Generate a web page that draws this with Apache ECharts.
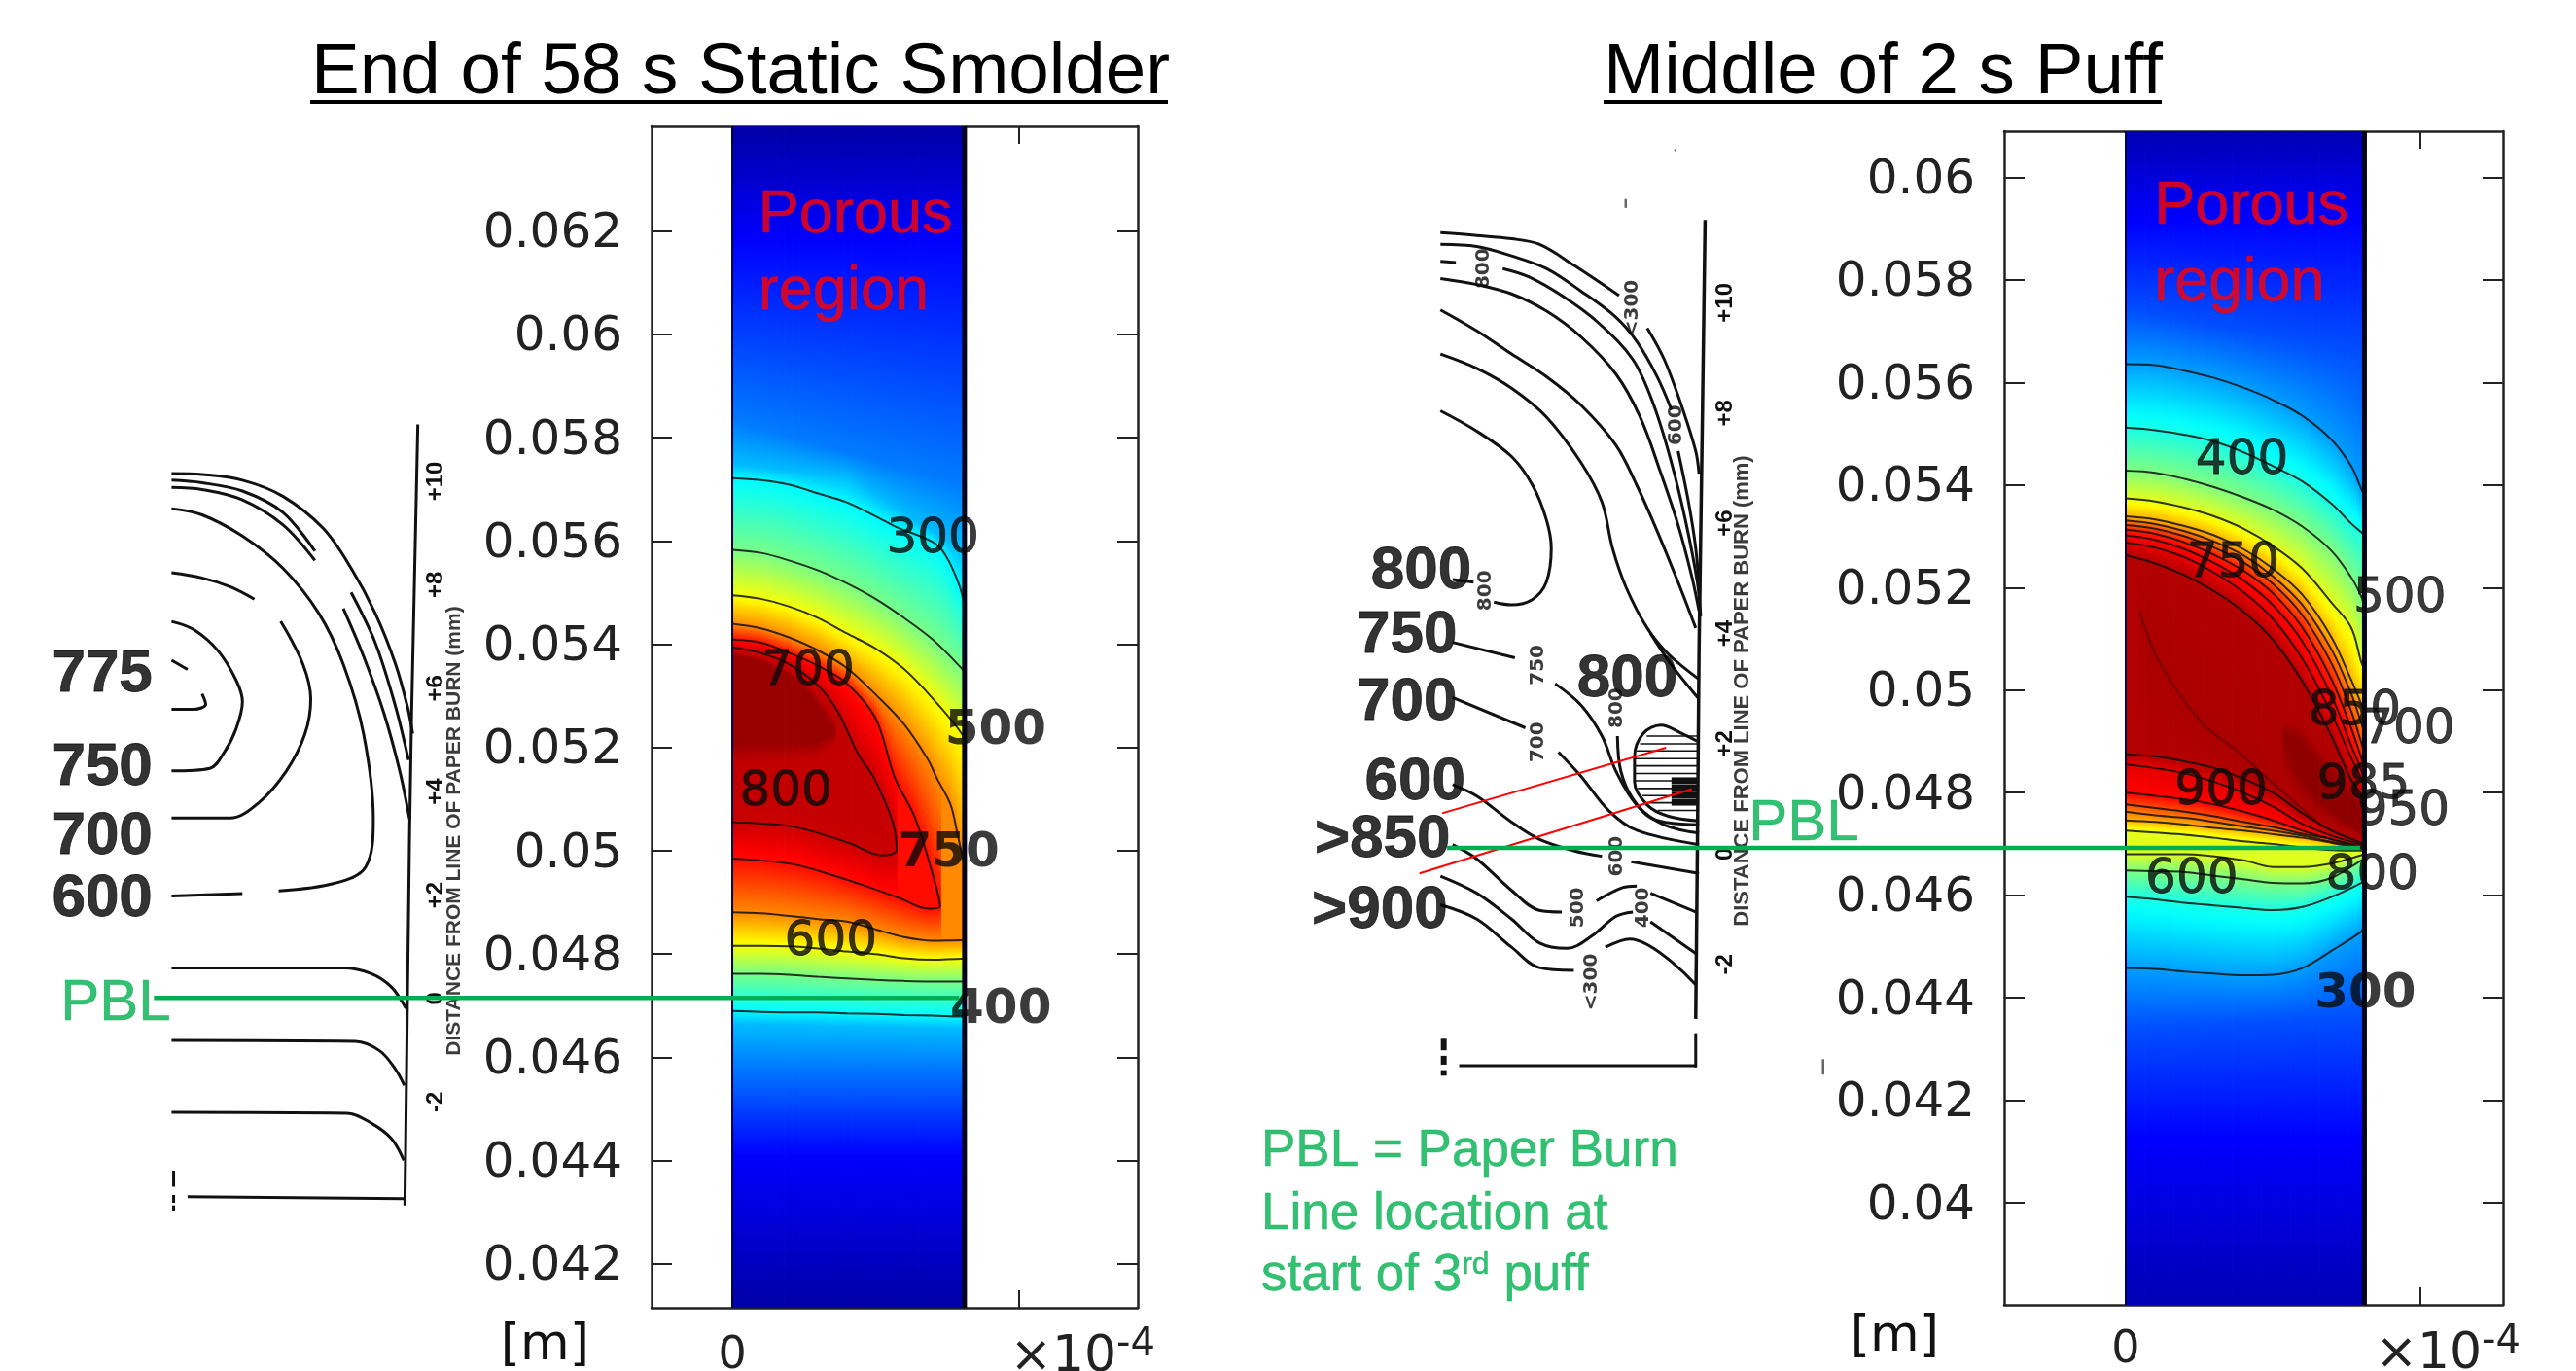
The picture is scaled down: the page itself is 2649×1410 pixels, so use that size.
<!DOCTYPE html>
<html><head><meta charset="utf-8">
<script src="https://cdn.jsdelivr.net/npm/echarts@6/dist/echarts.min.js"></script>
<style>html,body{margin:0;background:#fff}#c{width:2649px;height:1410px}</style></head>
<body><div id="c"></div>
<script>
// ---------- axis ticks ----------
const yTicks1=[0.042,0.044,0.046,0.048,0.05,0.052,0.054,0.056,0.058,0.06,0.062];
const yTicks2=[0.04,0.042,0.044,0.046,0.048,0.05,0.052,0.054,0.056,0.058,0.06];
const xTicks=[0,1], xLabels=[0];
const sketchTicks=[-2,0,2,4,6,8,10];
// ---------- model 1 isotherms: x (x10^-4 m), y (mm) ----------
const S1=[0,.1,.2,.3,.4,.5,.6,.7,.8,.811];
const m1_300u=[[0,57.22],[.1,57.18],[.2,57.09],[.3,56.92],[.4,56.75],[.5,56.48],[.574,56.27],[.7,55.98],[.744,55.73],[.793,55.14],[.811,54.72]];
const m1_400u=[55.83,55.77,55.62,55.43,55.18,54.88,54.51,54.09,53.54,53.45];
const m1_500u=[54.95,54.88,54.73,54.51,54.21,53.92,53.52,52.95,52.28,52.05];
const m1_600u=[[0,54.40],[.1,54.31],[.2,54.13],[.3,53.88],[.4,53.54],[.5,53.03],[.6,52.45],[.683,51.77],[.714,51.41],[.762,50.90],[.787,50.31],[.811,49.7]];
const m1_600l=[48.81,48.79,48.74,48.68,48.63,48.48,48.33,48.26,48.27,48.27];
const m1_500l=[48.16,48.16,48.15,48.11,48.05,48.00,47.92,47.89,47.91,47.91];
const m1_400l=[47.62,47.62,47.60,47.56,47.53,47.50,47.48,47.47,47.47,47.47];
const m1_300l=[46.90,46.88,46.87,46.87,46.85,46.84,46.82,46.81,46.79,46.79];
const m1_700=[[0,54.09],[.1,54.03],[.2,53.83],[.3,53.58],[.4,53.24],[.5,52.57],[.568,51.41],[.635,50.68],[.683,49.87],[.726,48.92],[.683,48.88],[.586,49.08],[.465,49.32],[.344,49.54],[.222,49.73],[.101,49.81],[0,49.85]];
const m1_750=[[0,53.94],[.1,53.83],[.2,53.61],[.3,53.20],[.368,52.70],[.441,51.86],[.495,51.41],[.562,50.53],[.574,50.02],[.526,49.91],[.404,50.16],[.222,50.46],[.101,50.53],[0,50.55]];
const m1_core755=[[0,53.88],[.1,53.77],[.2,53.53],[.3,53.1],[.37,52.6],[.44,51.75],[.50,51.1],[.55,50.3],[.45,50.45],[.2,50.8],[0,50.9]];
const m1_core758=[[0,53.85],[.1,53.73],[.2,53.48],[.29,53.05],[.41,52.25],[.29,51.8],[.1,51.7],[0,51.7]];
const m1_core790=[[0,53.8],[.1,53.68],[.2,53.42],[.28,53.0],[.36,52.3],[.28,52.1],[.1,52.1],[0,52.1]];
const m1_blue=[[30,[[0,64.03],[.811,64.03]]],[100,[[0,61.87],[.811,61.87]]],[200,[[0,58.33],[.811,57.07]]],[250,[[0,57.49],[.4,57.24],[.811,55.81]]],[250,[[0,46.65],[.811,46.55]]],[200,[[0,45.84],[.811,45.84]]],[100,[[0,44.08],[.811,44.08]]],[30,[[0,41.15],[.811,41.15]]]];
const m1_labels=[[.70,56.10,'300'],[.265,53.54,'700'],[.187,51.21,'800'],[.344,48.30,'600']];
const m1_boldLabels=[[.92,52.40,'500'],[.756,50.02,'750'],[.938,46.98,'400']];
const porous1=[[.091,62.30,'Porous'],[.091,60.82,'region']];
// ---------- model 2 isotherms ----------
const S2u=[0,.1,.2,.3,.4,.5,.6,.7,.766,.8,.811];
const m2_300u=[56.36,56.34,56.23,56.09,55.90,55.66,55.35,54.88,54.37,53.93,53.80];
const m2_400u=[55.12,55.07,54.98,54.85,54.64,54.37,54.07,53.63,53.25,53.08,53.02];
const m2_500u=[54.28,54.24,54.12,53.96,53.76,53.52,53.19,52.71,52.20,51.83,51.63];
const m2_600u=[53.74,53.68,53.56,53.39,53.15,52.81,52.37,51.70,51.22,50.55,50.40];
const m2_700u=[53.39,53.33,53.20,53.02,52.75,52.37,51.86,51.02,50.20,49.73,49.55];
const m2_750u=[53.31,53.24,53.10,52.90,52.63,52.22,51.66,50.78,49.93,49.36,49.15];
const m2_800u=[53.22,53.15,53.00,52.78,52.49,52.07,51.46,50.51,49.59,48.98,48.75];
const m2_850u=[53.13,53.05,52.88,52.64,52.33,51.89,51.22,50.20,49.26,48.68,48.45];
const m2_875u=[53.02,52.93,52.75,52.48,52.14,51.66,50.95,49.88,48.92,48.44,48.20];
const m2_900u=[52.88,52.78,52.59,52.29,51.91,51.39,50.61,49.53,48.68,48.27,48.05];
const m2_950u=[52.63,52.47,52.24,51.93,51.53,50.98,50.17,49.09,48.25,47.97,47.85];
const S2l=[0,.1,.2,.3,.4,.5,.6,.7,.8,.811];
const m2_950l=[48.75,48.71,48.61,48.48,48.27,48.00,47.60,47.26,47.02,47.00];
const m2_900l=[48.55,48.48,48.38,48.21,48.00,47.73,47.39,47.16,46.99,46.97];
const m2_875l=[48.00,47.94,47.87,47.77,47.63,47.46,47.26,47.09,46.95,46.94];
const m2_800l=[47.77,47.70,47.63,47.54,47.43,47.33,47.20,47.09,46.93,46.92];
const m2_750l=[47.63,47.56,47.51,47.43,47.34,47.26,47.16,47.04,46.92,46.91];
const m2_700l=[47.46,47.43,47.38,47.31,47.26,47.19,47.12,47.02,46.91,46.90];
const m2_600l=[47.26,47.22,47.18,47.12,47.05,47.00,46.93,46.88,46.87,46.87];
const m2_590l=[[0,46.80],[.2,46.80],[.4,46.68],[.5,46.55],[.6,46.55],[.7,46.62],[.8,46.78],[.811,46.80]];
const m2_500l=[46.48,46.47,46.45,46.38,46.31,46.24,46.23,46.34,46.68,46.72];
const m2_400l=[45.97,45.92,45.85,45.80,45.75,45.71,45.77,45.97,46.24,46.30];
const m2_300l=[44.58,44.56,44.51,44.47,44.44,44.45,44.58,44.92,45.29,45.40];
const m2_peak=[[.53,49.15],[.59,49.02],[.684,48.34],[.811,47.6],[.811,47.2],[.731,47.5],[.648,47.9],[.578,48.48],[.53,49.15]];
const m2_peakEdge=[[.46,49.5],[.6,49.3],[.72,48.5],[.811,47.75],[.811,47.1],[.72,47.35],[.6,47.75],[.5,48.6],[.46,49.5]];
const m2_ridge=[[.047,51.53],[.118,50.51],[.259,49.36],[.377,48.82],[.495,48.21],[.672,47.33]];
const m2_blue=[[50,[[0,60.9],[.811,60.9]]],[125,[[0,59.15],[.811,59.15]]],[200,[[0,57.46],[.811,56.6]]],[200,[[0,43.36],[.811,43.6]]],[125,[[0,41.27],[.811,41.27]]],[50,[[0,38.01],[.811,38.01]]]];
const m2_labels=[[.395,54.54,'400'],[.365,52.54,'750'],[.778,49.66,'850'],[.961,49.29,'700'],[.324,48.10,'900'],[.808,48.21,'985'],[.943,47.70,'950'],[.224,46.38,'600'],[.837,46.44,'800'],[.931,51.86,'500']];
const m2_boldLabels=[[.814,44.14,'300']];
const porous2=[[.097,59.43,'Porous'],[.097,57.93,'region']];
// ---------- scanned sketch 1: x, y in mm ----------
const s1_curves=[
 [[-4.58,10.15],[-3.99,10.13],[-3.21,10.02],[-2.43,9.71],[-1.65,9.09],[-1.11,8.32],[-.64,7.44],[-.25,6.46],[-.02,5.64],[.08,5.12]],
 [[-4.58,10.02],[-3.99,9.97],[-3.21,9.81],[-2.43,9.40],[-1.81,8.65]],
 [[-1.11,7.85],[-.64,6.87],[-.25,5.64],[0,4.61]],
 [[-4.58,9.88],[-3.99,9.84],[-3.21,9.64],[-2.43,9.16],[-1.81,8.47]],
 [[-1.26,7.54],[-.87,6.62],[-.48,5.53],[-.17,4.40],[.02,3.47]],
 [[-4.58,9.47],[-3.99,9.35],[-3.21,8.94],[-2.43,8.32],[-1.73,7.44],[-1.26,6.46],[-.87,5.12],[-.68,3.47],[-.83,2.54],[-1.42,2.23],[-2.51,2.08]],
 [[-3.21,2.03],[-4.58,1.98]],
 [[-4.58,8.23],[-3.99,8.13],[-3.45,7.96],[-2.98,7.72]],
 [[-2.47,7.29],[-2.04,6.46],[-1.89,5.79],[-2.0,5.12],[-2.36,4.40],[-2.90,3.78],[-3.45,3.49],[-4.58,3.49]],
 [[-4.58,7.29],[-4.15,7.13],[-3.68,6.72],[-3.33,6.15],[-3.21,5.74],[-3.33,5.22],[-3.56,4.76],[-3.84,4.45],[-4.58,4.40]],
 [[-4.58,6.54],[-4.27,6.36]],
 [[-3.99,5.89],[-3.92,5.69],[-4.15,5.59],[-4.58,5.59]],
 [[-4.58,.59],[-3.21,.59],[-1.26,.59],[-.72,.48],[-.33,.22],[-.05,-.19]],
 [[-4.58,-.81],[-1.03,-.83],[-.56,-1.01],[-.25,-1.37],[-.08,-1.68]],
 [[-4.58,-2.20],[-1.19,-2.22],[-.72,-2.41],[-.33,-2.71],[-.09,-3.13]],
 [[-4.27,-3.83],[-.09,-3.87]],
 [[-4.54,-3.33],[-4.54,-3.64]],[[-4.54,-3.80],[-4.54,-3.95]],[[-4.54,-4.0],[-4.54,-4.10]]
];
const s1_axis=[[.18,11.10],[.06,5.53],[.02,3.16],[-.02,.07],[-.07,-4.00]];
const s1_bold=[[-5.92,6.36,'775'],[-5.92,4.55,'750'],[-5.92,3.21,'700'],[-5.92,2.01,'600']];
const s1_name=[[.88,3.24,'DISTANCE FROM LINE OF PAPER BURN (mm)']];
const pbl1=[[-4.92,.01],[10.64,.01]];
const pblText1=[[-5.66,.0,'PBL']];
// ---------- scanned sketch 2 ----------
const s2_curves=[
 [[-4.74,11.27],[-4.08,11.22],[-3.45,11.16],[-2.95,11.06],[-2.32,10.68],[-1.50,10.13]],
 [[-.99,9.54],[-.68,8.97],[-.37,8.14],[-.11,7.31],[-.05,6.90]],
 [[-4.74,11.06],[-4.08,11.02],[-3.45,10.85],[-2.82,10.62],[-2.19,10.21],[-1.56,9.74],[-1.18,9.30],[-.81,8.66],[-.55,8.06]],
 [[-.43,7.31],[-.24,6.38],[-.11,5.55],[-.05,4.83]],
 [[-4.74,10.75],[-4.46,10.73]],
 [[-3.61,10.62],[-3.14,10.47],[-2.51,10.11],[-1.88,9.64],[-1.25,8.97],[-.87,8.14],[-.55,7.10],[-.30,6.07],[-.08,4.93],[-.02,4.31]],
 [[-4.74,10.44],[-4.08,10.33],[-3.45,10.16],[-2.82,9.85],[-2.19,9.38],[-1.56,8.71],[-1.12,7.93],[-.74,6.90],[-.43,5.97],[-.18,5.03],[-.05,4.41]],
 [[-4.74,9.87],[-4.08,9.49],[-3.45,9.07],[-2.82,8.66],[-2.19,8.14],[-1.56,7.42],[-1.18,6.69],[-.81,5.86],[-.43,4.93],[-.11,4.10]],
 [[-4.74,9.07],[-4.08,8.81],[-3.45,8.45],[-2.82,7.93],[-2.19,7.10],[-1.81,6.38],[-1.62,5.55],[-1.37,4.83],[-.99,4.10],[-.62,3.64],[-.05,3.17]],
 [[-.93,4.0],[-.55,3.43],[-.05,2.81]],
 [[-4.74,8.04],[-4.08,7.67],[-3.45,7.21],[-3.07,6.69],[-2.82,6.07],[-2.73,5.55],[-2.82,4.93],[-3.07,4.62],[-3.45,4.52],[-3.77,4.57]],
 [[-4.14,4.93],[-4.52,4.98]],
 [[-4.52,3.84],[-3.39,3.56]],
 [[-2.66,3.09],[-2.19,2.70],[-1.81,2.14],[-1.56,1.51],[-1.18,.89],[-.68,.53],[-.05,.38]],
 [[-4.52,2.84],[-3.20,2.29]],
 [[-2.60,1.85],[-2.19,1.41],[-1.69,.79],[-1.18,.43],[-.05,.17]],
 [[-1.53,2.14],[-1.47,1.51],[-1.25,1.0],[-.87,.63],[-.05,.53]],
 [[-.05,2.03],[-.37,2.19],[-.74,2.34],[-1.06,2.19],[-1.22,1.77],[-1.22,1.31],[-.99,.89],[-.62,.69],[-.05,.60]],
 [[-4.52,1.26],[-4.08,1.05],[-3.45,.58],[-2.95,.27],[-2.32,.06],[-1.81,-.04]],
 [[-1.28,-.14],[-.05,-.35]],
 [[-4.52,.17],[-4.08,-.09],[-3.45,-.66],[-2.95,-1.02],[-2.54,-1.05]],
 [[-1.91,-.85],[-1.44,-.61],[-1.18,-.58]],
 [[-.93,-.71],[-.11,-1.05]],
 [[-4.74,-.40],[-4.08,-.71],[-3.45,-1.18],[-2.95,-1.61],[-2.44,-1.71],[-2.0,-1.49],[-1.56,-1.13],[-1.25,-1.05]],
 [[-.93,-1.23],[-.11,-1.80]],
 [[-4.74,-.92],[-4.08,-1.18],[-3.45,-1.69],[-2.95,-2.06],[-2.32,-2.11]],
 [[-1.75,-1.69],[-1.31,-1.54],[-.11,-2.37]],
 [[-4.40,-3.84],[-.11,-3.84]],
 [[-.11,-3.25],[-.11,-3.87]]
];
const s2_dots=[[[-4.68,-3.35],[-4.68,-3.56]],[[-4.68,-3.66],[-4.68,-3.82]],[[-4.68,-3.92],[-4.68,-4.02]]];
const s2_specks=[[[-1.38,11.88],[-1.38,11.72]],[[-.49,12.78],[-.47,12.76]],[[2.2,-3.72],[2.2,-4.0]]];
const s2_hatch=[[-1.0,2.14],[-1.12,2.0],[-1.18,1.87],[-1.22,1.73],[-1.23,1.60],[-1.23,1.46],[-1.22,1.33],[-1.16,1.19],[-1.08,1.06],[-1.0,.93],[-.8,.79]];
const s2_dark=[1.33,1.2,1.07,.94];
const s2_axis=[[.06,11.50],[.01,7.83],[-.05,3.69],[-.08,.07],[-.11,-2.99]];
const s2_red=[[[-4.71,.74],[-.65,1.93]],[[-5.12,-.35],[-.18,1.18]]];
const s2_bold=[[-5.09,5.19,'800'],[-5.35,4.03,'750'],[-5.35,2.81,'700'],[-5.20,1.36,'600'],[-5.79,.32,'>850'],[-5.84,-.97,'>900'],[-1.35,3.24,'800']];
const s2_small=[[-3.95,10.62,'800'],[-1.25,9.90,'<300'],[-.46,7.78,'600'],[-3.92,4.78,'800'],[-2.96,3.43,'750'],[-2.96,2.03,'700'],[-1.53,2.65,'800'],[-1.53,-.04,'600'],[-2.25,-.97,'500'],[-1.07,-.97,'400'],[-2.0,-2.32,'<300']];
const s2_name=[[.74,2.96,'DISTANCE FROM LINE OF PAPER BURN (mm)']];
const pbl2=[[-4.62,.11],[11.94,.11]];
const pblText2=[[1.85,.55,'PBL']];
const noteLines=[[-7.99,-5.4,'PBL = Paper Burn'],[-7.99,-6.55,'Line location at'],[-7.99,-7.65,'start of 3{s|rd} puff']];

// ---------- helpers ----------
const zip=(xs,ys)=>ys.map((y,i)=>[xs[i],y]);
const toM=pts=>pts.map(p=>[p[0],p[1]/1000]);
const clamp=v=>Math.max(0,Math.min(1,v));
const jet=t=>{const c=v=>Math.round(255*clamp(1.5-Math.abs(4*t-v)));return `rgb(${c(3)},${c(2)},${c(1)})`;};
const GREEN='#00b050', INK='#0a0a0a';

const model1Lines=[
 [300,m1_300u],[400,zip(S1,m1_400u)],[500,zip(S1,m1_500u)],[600,m1_600u],[600,zip(S1,m1_600l)],[500,zip(S1,m1_500l)],[400,zip(S1,m1_400l)],[300,zip(S1,m1_300l)],[700,m1_700],[750,m1_750]
];
const model1Hidden=[[755,m1_core755],[758,m1_core758],[790,m1_core790],...m1_blue];
const model2Lines=[
 [280,zip(S2u,m2_300u)],[400,zip(S2u,m2_400u)],[500,zip(S2u,m2_500u)],[600,zip(S2u,m2_600u)],[700,zip(S2u,m2_700u)],[750,zip(S2u,m2_750u)],[800,zip(S2u,m2_800u)],[850,zip(S2u,m2_850u)],[875,zip(S2u,m2_875u)],[900,zip(S2u,m2_900u)],[950,zip(S2u,m2_950u)],
 [950,zip(S2l,m2_950l)],[900,zip(S2l,m2_900l)],[875,zip(S2l,m2_875l)],[800,zip(S2l,m2_800l)],[750,zip(S2l,m2_750l)],[700,zip(S2l,m2_700l)],[600,zip(S2l,m2_600l)],[590,m2_590l],[500,zip(S2l,m2_500l)],[400,zip(S2l,m2_400l)],[280,zip(S2l,m2_300l)]
];
const model2Hidden=[[985,m2_peak],[953,m2_peakEdge],[958,m2_ridge],...m2_blue];

function columnStops(lines,x,tMax,yTop,yBot){
  const hits=[];
  lines.forEach(([t,pts])=>{for(let i=0;i<pts.length-1;i++){const a=pts[i],b=pts[i+1];
    if((a[0]<=x&&x<b[0])||(b[0]<=x&&x<a[0])) hits.push([a[1]+(b[1]-a[1])*(x-a[0])/(b[0]-a[0]),t]);}});
  hits.sort((p,q)=>q[0]-p[0]);
  const stops=[];
  for(let i=0;i<hits.length-1;i++){const [y0,t0]=hits[i],[y1,t1]=hits[i+1];
    for(let k=0;k<6;k++){const f=k/6;stops.push({offset:clamp((yTop-(y0+(y1-y0)*f))/(yTop-yBot)),color:jet((t0+(t1-t0)*f)/tMax)});}}
  const l=hits[hits.length-1];stops.push({offset:clamp((yTop-l[0])/(yTop-yBot)),color:jet(l[1]/tMax)});
  return stops;
}
function fieldSeries(axisIdx,lines,tMax,yTop,yBot){
  const n=90,w=.811/n,cols=[];for(let i=0;i<n;i++)cols.push([i*w,(i+1)*w]);
  return {type:'custom',xAxisIndex:axisIdx.x,yAxisIndex:axisIdx.y,z:1,silent:true,clip:false,data:cols,encode:{x:[0,1]},
    renderItem(p,api){const x0=api.value(0),x1=api.value(1);
      const a=api.coord([x0,yTop/1000]),b=api.coord([x1,yBot/1000]);
      return {type:'rect',shape:{x:a[0],y:a[1],width:b[0]-a[0]+.8,height:b[1]-a[1]},
        style:{fill:new echarts.graphic.LinearGradient(0,0,0,1,columnStops(lines,(x0+x1)/2,tMax,yTop,yBot))}};}};
}
const lineS=(data,ax,o={})=>({type:'line',xAxisIndex:ax.x,yAxisIndex:ax.y,data,showSymbol:false,symbol:'none',silent:true,
  smooth:o.smooth===undefined?0.35:o.smooth,clip:false,z:o.z||3,animation:false,
  lineStyle:{color:o.color||'#111',width:o.width||2,opacity:o.opacity===undefined?1:o.opacity}});
const textS=(data,ax,o)=>({type:'scatter',xAxisIndex:ax.x,yAxisIndex:ax.y,data,symbolSize:0,silent:true,clip:false,z:o.z||6,
  label:{show:true,position:'inside',formatter:p=>p.data[2],color:o.color||INK,fontFamily:o.family||'DejaVu Sans',fontSize:o.size,fontWeight:o.weight||'normal',rotate:o.rotate||0,align:o.align||'center',verticalAlign:'middle',offset:o.offset||[0,0],
    textBorderColor:o.stroke?(o.color||INK):'transparent',textBorderWidth:o.stroke||0,rich:o.rich}});

const A1={x:0,y:0},A2={x:2,y:2},SK1={x:4,y:4},SK2={x:5,y:5};
const frame={lineStyle:{color:'#222',width:2.5}};
function modelAxes(g,xr,yr,ticks,name,nameGap,zeroMargin){
  const base={type:'value',gridIndex:g,min:xr[0],max:xr[1],splitLine:{show:false},axisLine:{onZero:false,...frame}};
  const xb={...base,position:'bottom',axisTick:{inside:true,length:18,customValues:xTicks,lineStyle:{color:'#222',width:2}},
    axisLabel:{customValues:xLabels,margin:zeroMargin,fontFamily:'DejaVu Sans',fontSize:46,color:'#222'},
    name:'{a|\u00d710}{b|-4}',nameLocation:'end',nameGap:18,
    nameTextStyle:{align:'right',verticalAlign:'top',padding:[19,0,0,0],rich:{a:{fontFamily:'DejaVu Sans',fontSize:52,color:'#222',lineHeight:58,verticalAlign:'bottom'},b:{fontFamily:'DejaVu Sans',fontSize:40,color:'#222',lineHeight:42,verticalAlign:'top'}}}};
  const xt={...base,position:'top',axisTick:{inside:true,length:18,customValues:xTicks,lineStyle:{color:'#222',width:2}},axisLabel:{show:false}};
  const ybase={type:'value',gridIndex:g,min:yr[0],max:yr[1],splitLine:{show:false},axisLine:{onZero:false,...frame},axisTick:{inside:true,length:21,customValues:ticks,lineStyle:{color:'#222',width:2}}};
  const yl={...ybase,position:'left',axisLabel:{customValues:ticks,formatter:v=>`{v|${v}}`,margin:30,rich:{v:{fontFamily:'DejaVu Sans',fontSize:50,color:'#222',padding:[7,0,0,0]}}},
    name:'[m]',nameLocation:'start',nameGap:nameGap,nameTextStyle:{fontFamily:'DejaVu Sans',fontSize:52,color:'#111',align:'right',verticalAlign:'middle',padding:[0,name,0,0]}};
  const yr2={...ybase,position:'right',axisLabel:{show:false}};
  return {x:[xb,xt],y:[yl,yr2]};
}
const M1=modelAxes(0,[-.282,1.416],[.04115,.06403],yTicks1,64,39,27);
const M2=modelAxes(1,[-.413,1.282],[.03801,.0609],yTicks2,67,33,24);
const sketchX=(g,r)=>({type:'value',gridIndex:g,min:r[0],max:r[1],show:false,splitLine:{show:false}});
const sketchY=(g,r,offset,m)=>({type:'value',gridIndex:g,min:r[0],max:r[1],position:'left',offset,splitLine:{show:false},axisLine:{show:false,onZero:false},
  axisTick:{show:false},axisLabel:{inside:true,customValues:sketchTicks,margin:m,rotate:90,formatter:v=>v>0?'+'+v:String(v),fontFamily:'Liberation Sans',fontWeight:'bold',fontSize:24,color:'#111'}});

const series=[
  fieldSeries(A1,[...model1Lines,...model1Hidden],810,64.03,41.15),
  fieldSeries(A2,[...model2Lines,...model2Hidden],1000,60.9,38.01),
  lineS(toM([[0,41.15],[0,64.03]]),A1,{color:'#000050',width:2,smooth:false}),
  lineS(toM([[.811,41.15],[.811,64.03]]),A1,{color:'#04041a',width:5,smooth:false}),
  lineS(toM([[0,38.01],[0,60.9]]),A2,{color:'#000050',width:2,smooth:false}),
  lineS(toM([[.811,38.01],[.811,60.9]]),A2,{color:'#04041a',width:5,smooth:false}),
  ...model1Lines.map(([t,p])=>lineS(toM(p),A1,{color:'#101010',width:2,opacity:.85})),
  ...model2Lines.map(([t,p])=>lineS(toM(p),A2,{color:'#101010',width:2,opacity:.85})),
  lineS(toM(m2_ridge),A2,{color:'#400000',width:2,opacity:.5}),
  textS(toM(m1_labels).map((p,i)=>[p[0],p[1],m1_labels[i][2]]),A1,{size:50,offset:[0,4],stroke:.8}),
  textS(toM(m1_boldLabels).map((p,i)=>[p[0],p[1],m1_boldLabels[i][2]]),A1,{size:50,weight:'bold',offset:[0,4]}),
  textS(toM(m2_labels).map((p,i)=>[p[0],p[1],m2_labels[i][2]]),A2,{size:50,offset:[0,4],stroke:.8}),
  textS(toM(m2_boldLabels).map((p,i)=>[p[0],p[1],m2_boldLabels[i][2]]),A2,{size:50,weight:'bold',offset:[0,4]}),
  textS(porous1.map(p=>[p[0],p[1]/1000,p[2]]),A1,{size:63,family:'Liberation Sans',color:'#ff0000',align:'left',stroke:.6}),
  textS(porous2.map(p=>[p[0],p[1]/1000,p[2]]),A2,{size:63,family:'Liberation Sans',color:'#ff0000',align:'left',stroke:.6}),
  ...s1_curves.map(c=>lineS(c,SK1,{width:3})),
  lineS(s1_axis,SK1,{width:3,smooth:false}),
  ...s2_curves.map(c=>lineS(c,SK2,{width:3})),
  ...s2_dots.map(c=>lineS(c,SK2,{width:6,smooth:false})),
  ...s2_specks.map(c=>lineS(c,SK2,{width:2.5,smooth:false,color:'#666'})),
  ...s2_hatch.map(([x,y])=>lineS([[x,y],[-.05,y]],SK2,{width:1.6,smooth:false})),
  ...s2_dark.map(y=>lineS([[-.55,y],[-.08,y]],SK2,{width:7,smooth:false})),
  lineS(s2_axis,SK2,{width:3.5,smooth:false}),
  ...s2_red.map(c=>lineS(c,SK2,{color:'#ff0000',width:2,smooth:false,z:7})),
  lineS(pbl1,SK1,{color:GREEN,width:4.5,smooth:false,z:8}),
  lineS(pbl2,SK2,{color:GREEN,width:4.5,smooth:false,z:8}),
  textS(s1_bold,SK1,{size:62,family:'Liberation Sans',weight:'bold',color:'#000',offset:[0,5],stroke:.8}),
  textS(s2_bold,SK2,{size:62,family:'Liberation Sans',weight:'bold',color:'#000',offset:[0,4],stroke:.8}),
  textS(s2_small,SK2,{size:20,rotate:90,weight:'bold'}),
  textS(s1_name,SK1,{size:21,family:'Liberation Sans',weight:'bold',rotate:90}),
  textS(s2_name,SK2,{size:22,family:'Liberation Sans',weight:'bold',rotate:90}),
  textS(pblText1,SK1,{size:60,family:'Liberation Sans',color:GREEN,offset:[0,6],stroke:.5}),
  textS(pblText2,SK2,{size:60,family:'Liberation Sans',color:GREEN,stroke:.5}),
  textS(noteLines,SK2,{size:53,family:'Liberation Sans',color:GREEN,align:'left',stroke:.5,rich:{s:{fontFamily:'Liberation Sans',fontSize:32,color:GREEN,verticalAlign:'top',lineHeight:30}}})
];
const chart=echarts.init(document.getElementById('c'),null,{renderer:'canvas'});
chart.setOption({animation:false,backgroundColor:'#fff',
  title:[
   {text:'End of 58 s Static Smolder',left:315,top:33,textStyle:{fontFamily:'Liberation Sans',fontSize:74.6,fontWeight:'normal',color:'#000'}},
   {text:'Middle of 2 s Puff',left:1644,top:33,textStyle:{fontFamily:'Liberation Sans',fontSize:74.6,fontWeight:'normal',color:'#000'}}],
  grid:[
   {left:670,top:130,width:500,height:1215,outerBoundsMode:'none'},
   {left:2061,top:135,width:513,height:1207,outerBoundsMode:'none'},
   {left:20,top:130,width:980,height:1215,outerBoundsMode:'none'},
   {left:1280,top:135,width:1160,height:1265,outerBoundsMode:'none'}],
  xAxis:[...M1.x,...M2.x,sketchX(2,[-7.52,10.90]),sketchX(3,[-8.29,12.17])],
  yAxis:[...M1.y,...M2.y,sketchY(2,[-5.98,16.86],-400,16),sketchY(3,[-9.20,13.11],-470,12)],
  graphic:[
   {type:'line',shape:{x1:319,y1:105,x2:1201,y2:105},style:{stroke:'#000',lineWidth:4}},
   {type:'line',shape:{x1:1649,y1:105,x2:2223,y2:105},style:{stroke:'#000',lineWidth:4}}],
  series});
</script></body></html>
